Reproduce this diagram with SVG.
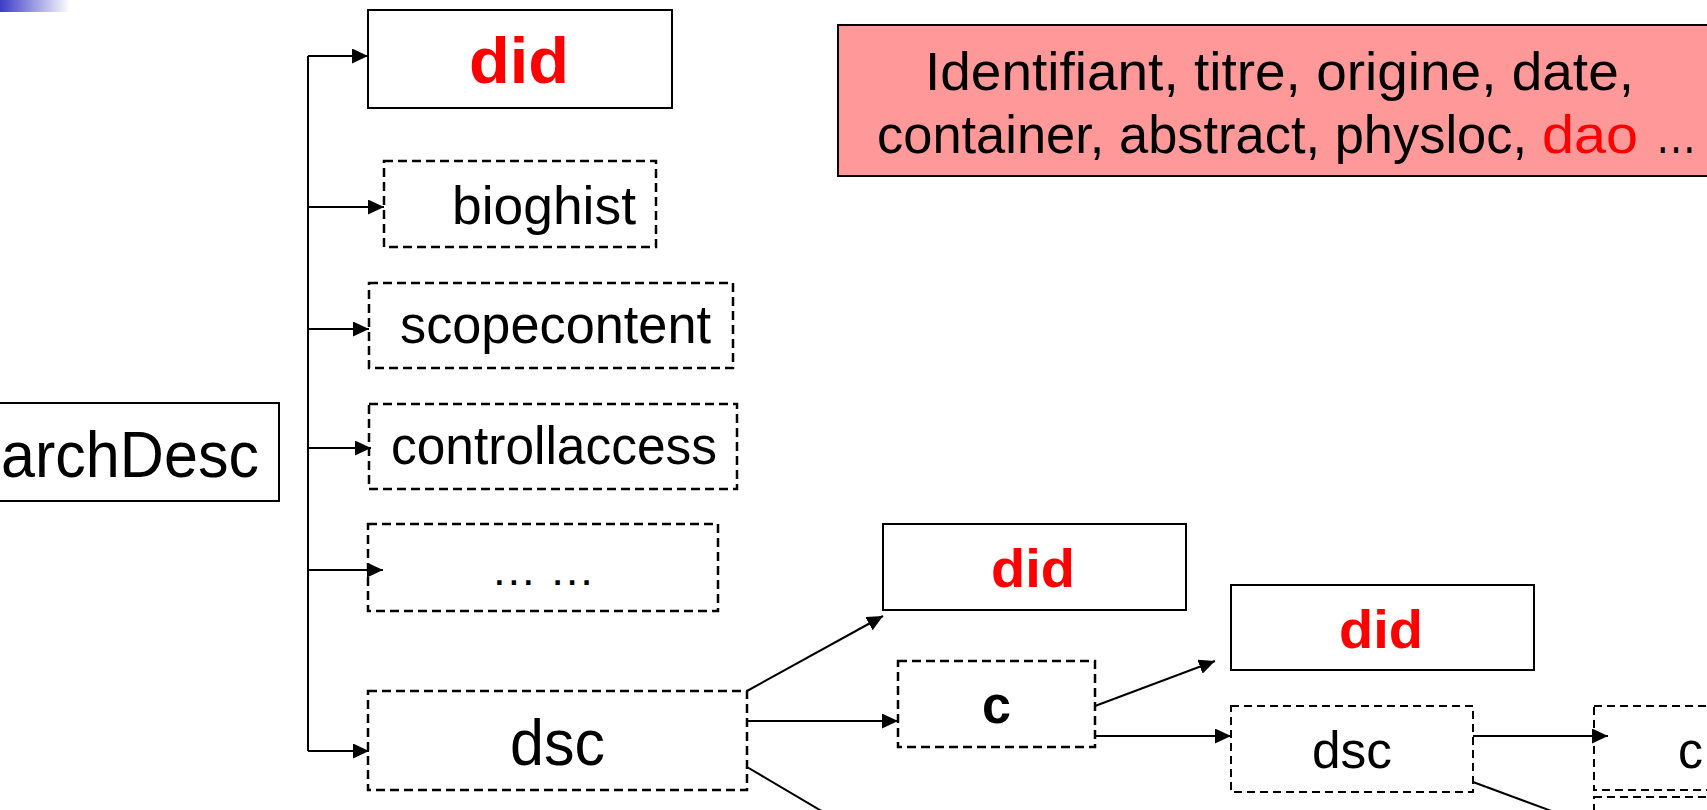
<svg xmlns="http://www.w3.org/2000/svg" width="1707" height="810" viewBox="0 0 1707 810">
<defs>
<linearGradient id="bar" x1="0" y1="0" x2="1" y2="0">
<stop offset="0" stop-color="#3c3cc8"/>
<stop offset="1" stop-color="#ffffff"/>
</linearGradient>
<marker id="ah" markerUnits="userSpaceOnUse" markerWidth="16" markerHeight="15" refX="16" refY="7.5" orient="auto">
<path d="M0,0 L16,7.5 L0,15 z" fill="#000"/>
</marker>
<style>
.solid{fill:#fff;stroke:#000;stroke-width:2}
.dash{fill:#fff;stroke:#000;stroke-width:2.5;stroke-dasharray:9 5}
.conn{fill:none;stroke:#000;stroke-width:2}
.t{font-family:"Liberation Sans",Arial,sans-serif;fill:#000}
.red{fill:#ff0000;font-weight:bold}
.redn{fill:#ff0000}
.b{font-weight:bold}
</style>
</defs>
<rect x="0" y="0" width="70" height="12" fill="url(#bar)"/>

<g id="note">
<rect x="838" y="25" width="880" height="151" fill="#ff9999" stroke="#000" stroke-width="2"/>
<text class="t" x="925" y="90" font-size="54" textLength="709" lengthAdjust="spacingAndGlyphs">Identifiant, titre, origine, date,</text>
<text class="t" x="877" y="153" font-size="54" textLength="650" lengthAdjust="spacingAndGlyphs">container, abstract, physloc,</text>
<text class="t redn" x="1542" y="153" font-size="54" textLength="96" lengthAdjust="spacingAndGlyphs">dao</text>
<text class="t" x="1655" y="153" font-size="54" textLength="42" lengthAdjust="spacingAndGlyphs">…</text>
</g>

<g id="archDesc">
<rect class="solid" x="-2" y="403" width="281" height="98"/>
<text class="t" x="1" y="477" font-size="64" textLength="258" lengthAdjust="spacingAndGlyphs">archDesc</text>
</g>

<g id="did1">
<rect class="solid" x="368" y="10" width="304" height="98"/>
<text class="t red" x="469" y="83" font-size="65" textLength="100" lengthAdjust="spacingAndGlyphs">did</text>
</g>

<g id="bioghist">
<rect class="dash" x="384" y="161" width="272" height="86"/>
<text class="t" x="452" y="224" font-size="53" textLength="184" lengthAdjust="spacingAndGlyphs">bioghist</text>
</g>

<g id="scopecontent">
<rect class="dash" x="369" y="283" width="364" height="85"/>
<text class="t" x="400" y="343" font-size="54" textLength="311" lengthAdjust="spacingAndGlyphs">scopecontent</text>
</g>

<g id="controllaccess">
<rect class="dash" x="369" y="404" width="368" height="85"/>
<text class="t" x="391" y="464" font-size="53" textLength="326" lengthAdjust="spacingAndGlyphs">controllaccess</text>
</g>

<g id="more">
<rect class="dash" x="368" y="524" width="350" height="87"/>
<text class="t" x="491" y="585" font-size="45" textLength="104" lengthAdjust="spacingAndGlyphs">… …</text>
</g>

<g id="dsc1">
<rect class="dash" x="368" y="691" width="379" height="99"/>
<text class="t" x="510" y="765" font-size="64" textLength="95" lengthAdjust="spacingAndGlyphs">dsc</text>
</g>

<g id="did2">
<rect class="solid" x="883" y="524" width="303" height="86"/>
<text class="t red" x="991" y="587" font-size="54" textLength="84" lengthAdjust="spacingAndGlyphs">did</text>
</g>

<g id="c1">
<rect class="dash" x="898" y="661" width="197" height="86"/>
<text class="t b" x="982" y="723" font-size="53" textLength="29" lengthAdjust="spacingAndGlyphs">c</text>
</g>

<g id="did3">
<rect class="solid" x="1231" y="585" width="303" height="85"/>
<text class="t red" x="1339" y="648" font-size="54" textLength="84" lengthAdjust="spacingAndGlyphs">did</text>
</g>

<g id="dsc2">
<rect class="dash" x="1231" y="706" width="242" height="86" style="stroke-dasharray:8 5;stroke-width:2"/>
<text class="t" x="1312" y="768" font-size="52" textLength="80" lengthAdjust="spacingAndGlyphs">dsc</text>
</g>

<g id="c2">
<rect class="dash" x="1594" y="706" width="200" height="84" style="stroke-dasharray:8 5;stroke-width:2"/>
<rect class="dash" x="1594" y="797" width="200" height="100" style="stroke-dasharray:8 5;stroke-width:2"/>
<text class="t" x="1678" y="768" font-size="52" textLength="25" lengthAdjust="spacingAndGlyphs">c</text>
</g>

<g id="connectors">
<path class="conn" d="M308,56 V751"/>
<path class="conn" d="M308,56 H368" marker-end="url(#ah)"/>
<path class="conn" d="M308,207 H384" marker-end="url(#ah)"/>
<path class="conn" d="M308,329 H369" marker-end="url(#ah)"/>
<path class="conn" d="M308,448 H371" marker-end="url(#ah)"/>
<path class="conn" d="M308,570 H383" marker-end="url(#ah)"/>
<path class="conn" d="M308,751 H369" marker-end="url(#ah)"/>
<path class="conn" d="M747,691 L883,616" marker-end="url(#ah)"/>
<path class="conn" d="M747,721 H898" marker-end="url(#ah)"/>
<path class="conn" d="M747,767 L830,816"/>
<path class="conn" d="M1095,706 L1215,661" marker-end="url(#ah)"/>
<path class="conn" d="M1095,736 H1231" marker-end="url(#ah)"/>
<path class="conn" d="M1473,736 H1608" marker-end="url(#ah)"/>
<path class="conn" d="M1473,782 L1565,816"/>
</g>
</svg>
